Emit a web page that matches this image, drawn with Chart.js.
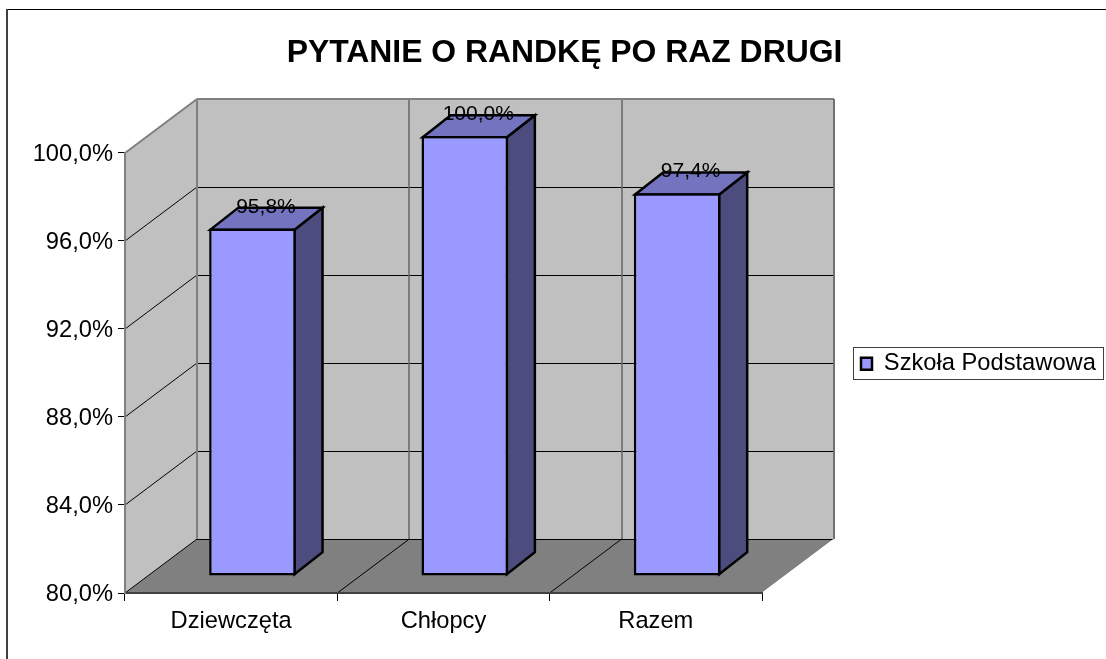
<!DOCTYPE html>
<html>
<head>
<meta charset="utf-8">
<title>Pytanie o randkę po raz drugi</title>
<script src="https://cdn.jsdelivr.net/npm/chart.js@4/dist/chart.umd.min.js"></script>
<style>
  html, body { margin: 0; padding: 0; background: #fff; }
  canvas { display: block; }
</style>
</head>
<body>
<canvas id="myBarChart" width="1106" height="659"></canvas>
<script>
var categories = ["Dziewczęta", "Chłopcy", "Razem"];
var seriesName = "Szkoła Podstawowa";
var seriesValues = [95.8, 100.0, 97.4];
var chartTitle = "PYTANIE O RANDKĘ PO RAZ DRUGI";

var fontName = "'Liberation Sans', Arial, sans-serif";

// how far the back wall sits behind the front plane
var wallX = 72, wallY = -54;
// where the bars stand inside that depth, and how deep they are
var barShiftX = 21.3, barShiftY = -17;
var barDepthX = 28, barDepthY = -22;

function percentText(v) {
    return v.toFixed(1).replace(".", ",") + "%";
}

function poly(ctx, pts, fill, stroke, lw) {
    ctx.beginPath();
    ctx.moveTo(pts[0][0], pts[0][1]);
    for (var i = 1; i < pts.length; i++) ctx.lineTo(pts[i][0], pts[i][1]);
    ctx.closePath();
    if (fill) { ctx.fillStyle = fill; ctx.fill(); }
    if (stroke) { ctx.strokeStyle = stroke; ctx.lineWidth = lw; ctx.stroke(); }
}

function line(ctx, x1, y1, x2, y2, color, lw) {
    ctx.beginPath();
    ctx.moveTo(x1, y1);
    ctx.lineTo(x2, y2);
    ctx.strokeStyle = color;
    ctx.lineWidth = lw;
    ctx.stroke();
}

var box3d = {
    id: "box3d",
    afterLayout: function (chart) {
        // legend and title are placed by hand, away from the default slots
        var lg = chart.legend;
        lg.left = 856; lg.right = 1104; lg.top = 347; lg.bottom = 380;
        chart.titleBlock.left = 23;
        chart.titleBlock.right = 1106;
    },
    beforeDraw: function (chart) {
        var ctx = chart.ctx, a = chart.chartArea;
        var xs = chart.scales.x, ys = chart.scales.y;
        ctx.save();
        ctx.lineJoin = "miter";

        // frame of the chart, only top and left fall inside the picture
        line(ctx, 6, 9.5, 1106, 9.5, "#000", 1);
        line(ctx, 7, 9, 7, 659, "#404040", 2);

        // side wall, back wall, floor
        poly(ctx, [[a.left, a.top], [a.left + wallX, a.top + wallY], [a.left + wallX, a.bottom + wallY], [a.left, a.bottom]], "#c0c0c0");
        poly(ctx, [[a.left + wallX, a.top + wallY], [a.right + wallX, a.top + wallY], [a.right + wallX, a.bottom + wallY], [a.left + wallX, a.bottom + wallY]], "#c0c0c0");
        poly(ctx, [[a.left, a.bottom], [a.left + wallX, a.bottom + wallY], [a.right + wallX, a.bottom + wallY], [a.right, a.bottom]], "#808080");

        // gridlines on the walls
        ys.ticks.forEach(function (t) {
            var y = Math.round(ys.getPixelForValue(t.value));
            if (t.value > ys.min && t.value < ys.max) {
                line(ctx, a.left, y, a.left + wallX, y + wallY, "#000", 1);
                line(ctx, a.left + wallX, y + wallY + 0.5, a.right + wallX, y + wallY + 0.5, "#000", 1);
            }
        });
        var step = xs.getPixelForTick(1) - xs.getPixelForTick(0);
        for (var i = 1; i < categories.length; i++) {
            var x = xs.getPixelForTick(i) - step / 2;
            line(ctx, Math.round(x + wallX), a.top + wallY, Math.round(x + wallX), a.bottom + wallY, "#666", 1.5);
            line(ctx, x, a.bottom, x + wallX, a.bottom + wallY, "#000", 1);
        }

        // wall edges
        line(ctx, a.left + wallX, a.bottom + wallY + 0.5, a.right + wallX, a.bottom + wallY + 0.5, "#000", 1);
        line(ctx, a.left, a.bottom, a.left + wallX, a.bottom + wallY, "#000", 1);
        line(ctx, a.left, a.top, a.left + wallX, a.top + wallY, "#808080", 2);
        line(ctx, a.left + wallX, a.top + wallY, a.right + wallX, a.top + wallY, "#808080", 2);
        line(ctx, a.left + wallX, a.top + wallY, a.left + wallX, a.bottom + wallY, "#808080", 2);
        line(ctx, a.right + wallX, a.top + wallY, a.right + wallX, a.bottom + wallY, "#707070", 2);
        line(ctx, a.right, a.bottom, a.right + wallX, a.bottom + wallY, "#fff", 1);
        ctx.restore();

        // legend frame
        ctx.save();
        ctx.fillStyle = "#fff";
        ctx.fillRect(853, 347, 251, 33);
        ctx.strokeStyle = "#404040";
        ctx.lineWidth = 1;
        ctx.strokeRect(853.5, 347.5, 250, 32);
        ctx.restore();
    },
    beforeDatasetsDraw: function (chart) {
        var ctx = chart.ctx;
        ctx.save();
        ctx.translate(barShiftX, barShiftY);
        // side and top of each bar go under the face the library draws
        chart.getDatasetMeta(0).data.forEach(function (bar) {
            var l = bar.x - bar.width / 2 + 1.25, r = bar.x + bar.width / 2 - 1.25;
            var top = bar.y + 1.25, bottom = bar.base - 1.25;
            ctx.lineJoin = "miter";
            poly(ctx, [[r, top], [r + barDepthX, top + barDepthY], [r + barDepthX, bottom + barDepthY], [r, bottom]], "#4c4c7f", "#000", 2.5);
            poly(ctx, [[l, top], [l + barDepthX, top + barDepthY], [r + barDepthX, top + barDepthY], [r, top]], "#7373bf", "#000", 2.5);
        });
    },
    afterDatasetsDraw: function (chart) {
        var ctx = chart.ctx;
        ctx.restore();
        ctx.save();
        ctx.font = "21px " + fontName;
        ctx.fillStyle = "#000";
        ctx.textAlign = "center";
        ctx.textBaseline = "middle";
        chart.getDatasetMeta(0).data.forEach(function (bar, i) {
            ctx.fillText(percentText(seriesValues[i]), bar.x + barShiftX + 13.5, bar.y + barShiftY - 21.5);
        });
        ctx.restore();
    }
};

var MyBarChart = new Chart(document.getElementById("myBarChart"), {
    type: "bar",
    data: {
        labels: categories,
        datasets: [{
            label: seriesName,
            data: seriesValues,
            base: 80,
            backgroundColor: "#9999ff",
            borderColor: "#000",
            borderWidth: 2.5,
            borderSkipped: false,
            barPercentage: 0.408,
            categoryPercentage: 1,
            clip: false
        }]
    },
    options: {
        responsive: false,
        animation: false,
        layout: { padding: { left: 0, right: 344, top: 0, bottom: 20 } },
        plugins: {
            tooltip: { enabled: false },
            title: {
                display: true,
                text: chartTitle,
                color: "#000",
                font: { family: fontName, size: 31.9, weight: "bold" },
                padding: { top: 34, bottom: 80.7 }
            },
            legend: {
                position: "chartArea",
                align: "start",
                labels: {
                    color: "#000",
                    font: { family: fontName, size: 23.7 },
                    boxWidth: 11,
                    boxHeight: 12,
                    padding: 5
                }
            }
        },
        scales: {
            x: {
                afterFit: function (s) { s.height = 46; },
                grid: { display: true, drawOnChartArea: false, color: "#000", tickLength: 8, offset: true },
                border: { color: "#404040", width: 2 },
                ticks: { color: "#000", font: { family: fontName, size: 23.7 }, maxRotation: 0, padding: 6 }
            },
            y: {
                min: 80,
                max: 100,
                afterFit: function (s) { s.width = 125; },
                grid: { display: true, drawOnChartArea: false, color: "#000", tickLength: 7 },
                border: { color: "#808080", width: 2 },
                ticks: {
                    stepSize: 4,
                    color: "#000",
                    font: { family: fontName, size: 23.7 },
                    padding: 5,
                    labelOffset: 1,
                    callback: function (v) { return percentText(v); }
                }
            }
        }
    },
    plugins: [box3d]
});
</script>
</body>
</html>
